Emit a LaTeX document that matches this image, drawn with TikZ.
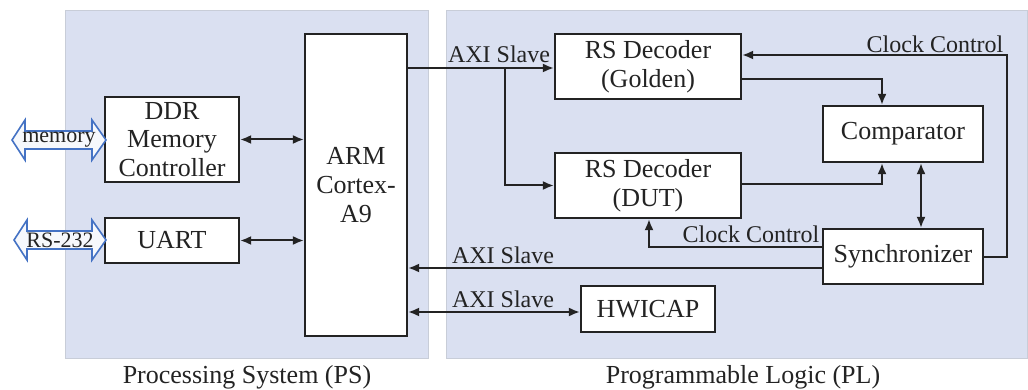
\documentclass[tikz,border=0pt]{standalone}
\usepackage{fontspec}
\setmainfont{Liberation Serif}
\usetikzlibrary{arrows.meta}
\definecolor{panelfill}{RGB}{218,224,241}
\definecolor{paneledge}{RGB}{200,205,216}
\definecolor{ink}{RGB}{35,35,35}
\definecolor{ifblue}{RGB}{68,114,196}
\definecolor{iffill}{RGB}{246,248,252}
\tikzset{
  panel/.style={draw=paneledge, line width=1pt, fill=panelfill},
  blk/.style={draw=ink, line width=2.2pt, fill=white, align=center, inner sep=0pt,
    text=ink, font=\fontsize{26}{28.6}\selectfont},
  conn/.style={draw=ink, line width=2pt, -{Latex[length=11pt,width=9pt]}},
  bconn/.style={draw=ink, line width=2pt, {Latex[length=11pt,width=9pt]}-{Latex[length=11pt,width=9pt]}},
  lbl/.style={anchor=base, inner sep=0pt, text=ink, font=\fontsize{24}{26}\selectfont},
  captxt/.style={anchor=base, inner sep=0pt, text=ink, font=\fontsize{26}{28}\selectfont},
  iface/.style={draw=ifblue, line width=1.6pt, fill=iffill, line join=miter},
  iftext/.style={inner sep=0pt, text=ink, font=\fontsize{22}{24}\selectfont},
}
\begin{document}
\begin{tikzpicture}[x=1pt,y=-1pt]
\useasboundingbox (0,0) rectangle (1028,390);
% panels
\path[panel] (65,11) rectangle (428,358);
\path[panel] (446,11) rectangle (1027,358);
\node[captxt] (pscap) at (247,383) {Processing System (PS)};
\node[captxt] (plcap) at (743,383) {Programmable Logic (PL)};
% blocks
\node[blk, minimum width=134pt, minimum height=85pt] (ddr) at (172,139.5) {DDR\\Memory\\Controller};
\node[blk, minimum width=134pt, minimum height=45pt] (uart) at (172,240.5) {UART};
\node[blk, minimum width=102pt, minimum height=302pt] (arm) at (356,185) {ARM\\Cortex-\\A9};
\node[blk, minimum width=186pt, minimum height=65pt] (gold) at (648,66.5) {RS Decoder\\(Golden)};
\node[blk, minimum width=186pt, minimum height=65pt] (dut) at (648,185.5) {RS Decoder\\(DUT)};
\node[blk, minimum width=160pt, minimum height=56pt] (comp) at (903,134) {Comparator};
\node[blk, minimum width=160pt, minimum height=55pt] (sync) at (903,256.5) {Synchronizer};
\node[blk, minimum width=134pt, minimum height=46pt] (hw) at (648,309) {HWICAP};
% external interfaces
\draw[iface] (12,140) -- (25,120) -- (25,131) -- (92,131) -- (92,120) -- (106,140)
  -- (92,160) -- (92,149) -- (25,149) -- (25,160) -- cycle;
\node[iftext] (mem) at (59,140) {memory};
\draw[iface] (14,240) -- (27,220) -- (27,231) -- (92,231) -- (92,220) -- (106,240)
  -- (92,260) -- (92,249) -- (27,249) -- (27,260) -- cycle;
\node[iftext] (rs) at (60,240) {RS-232};
% PS connectors
\draw[bconn] (ddr.east) -- (ddr.east -| arm.west);
\draw[bconn] (uart.east) -- (uart.east -| arm.west);
% AXI slave to decoders
\coordinate (axia) at (arm.east |- 0,68);
\coordinate (br) at (505,68);
\draw[conn] (axia) -- (axia -| gold.west);
\draw[conn] (br) |- (dut.west);
\node[lbl] (axl1) at (499,63) {AXI Slave};
% decoders to comparator
\coordinate (gout) at (gold.east |- 0,79);
\coordinate (dout) at (dut.east |- 0,184);
\draw[conn] (gout) -| (882,0 |- comp.north);
\draw[conn] (dout) -| (882,0 |- comp.south);
% comparator <-> synchronizer
\draw[bconn] (921,0 |- comp.south) -- (921,0 |- sync.north);
% clock control top
\coordinate (ccr) at (1007,55);
\draw[conn] (sync.east) -| (ccr) -- (ccr -| gold.east);
\node[lbl] (ccl1) at (935,53) {Clock Control};
% clock control bottom
\coordinate (ccb) at (sync.west |- 0,247);
\draw[conn] (ccb) -| (649,0 |- dut.south);
\node[lbl] (ccl2) at (751,243) {Clock Control};
% AXI slave sync -> ARM
\coordinate (axs) at (sync.west |- 0,268);
\draw[conn] (axs) -- (axs -| arm.east);
\node[lbl] (axl2) at (503,263) {AXI Slave};
% AXI slave ARM <-> HWICAP
\draw[bconn] (hw.west |- 0,312) -- (arm.east |- 0,312);
\node[lbl] (axl3) at (503,307) {AXI Slave};
\end{tikzpicture}
\end{document}
